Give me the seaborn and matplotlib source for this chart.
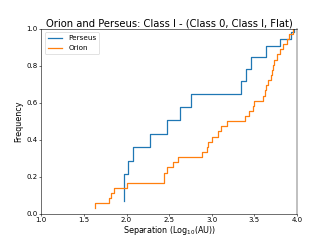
import numpy as np
import pandas as pd
import seaborn as sns
import matplotlib.pyplot as plt

# Perseus cumulative curve, step positions and levels
perseus_x = [1.97, 1.975, 2.02, 2.075, 2.27, 2.48, 2.63, 2.76, 3.34, 3.40,
             3.46, 3.635, 3.80, 3.93, 3.96]
perseus_y = [0.07, 0.216, 0.287, 0.360, 0.432, 0.504, 0.576, 0.645, 0.716,
             0.783, 0.850, 0.905, 0.944, 0.98, 1.0]

# Orion log10 separations (AU)
orion_sep = [1.63, 1.63, 1.79, 1.815, 1.85, 2.0, 2.44, 2.445, 2.48, 2.54,
             2.60, 2.88, 2.94, 2.955, 3.0, 3.07, 3.105, 3.18, 3.39, 3.44,
             3.48, 3.50, 3.60, 3.62, 3.64, 3.66, 3.69, 3.71, 3.72, 3.73,
             3.76, 3.80, 3.84, 3.88, 3.91, 3.95]

orion_x = np.sort(orion_sep)
orion_y = np.arange(1, len(orion_x) + 1) / len(orion_x)

fig, ax = plt.subplots(figsize=(6.6, 4.8), dpi=50)

for xs, ys, name, col in [(perseus_x, perseus_y, 'Perseus', 'C0'),
                          (orion_x, orion_y, 'Orion', 'C1')]:
    df = pd.DataFrame({'sep': xs, 'freq': ys})
    sns.lineplot(data=df, x='sep', y='freq', estimator=None, sort=False,
                 drawstyle='steps-post', color=col, label=name, ax=ax, lw=1.8)

ax.set_xlim(1.0, 4.0)
ax.set_ylim(0.0, 1.0)
ax.set_title('Orion and Perseus: Class I - (Class 0, Class I, Flat)', fontsize=14.4, pad=3)
ax.set_xlabel('Separation (Log$_{10}$(AU))', fontsize=11.6, labelpad=1)
ax.set_ylabel('Frequency', fontsize=11.6)
ax.tick_params(labelsize=10, pad=2)
ax.spines['right'].set_color('#b8b8b8')
ax.spines['right'].set_linewidth(2.5)
ax.legend(loc='upper left', fontsize=10.5)

fig.savefig('out.png', dpi=50)
